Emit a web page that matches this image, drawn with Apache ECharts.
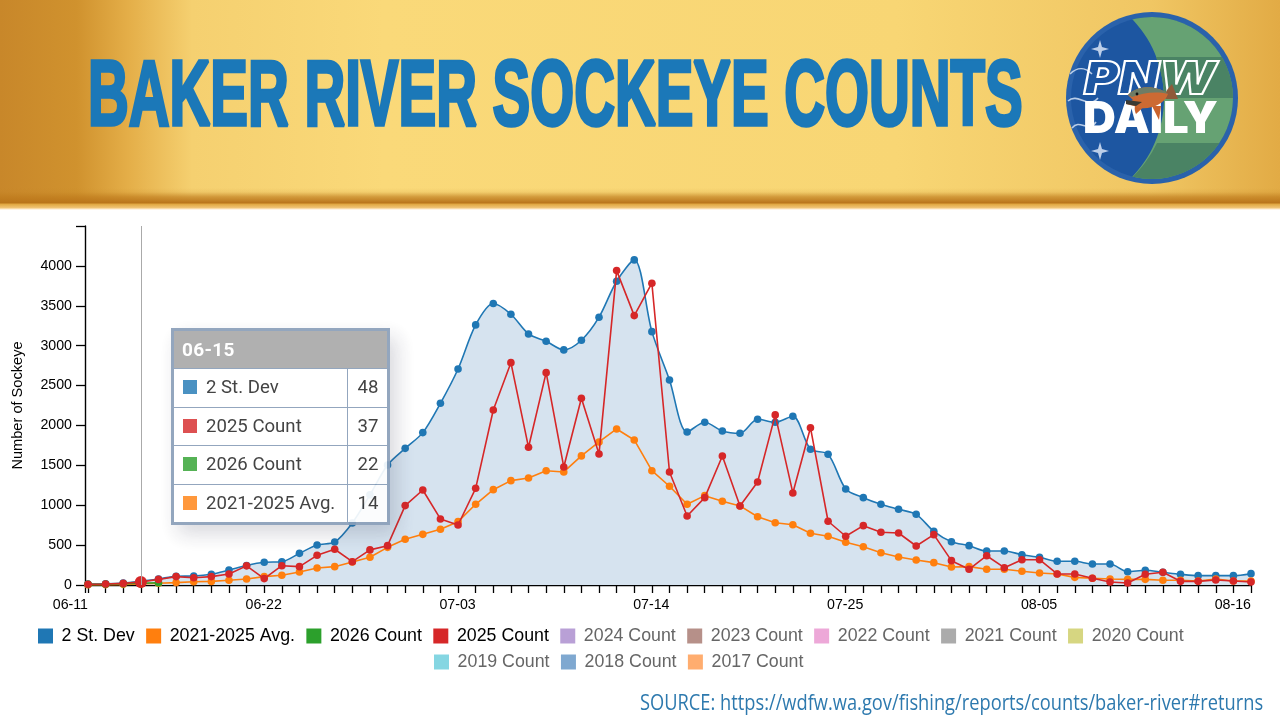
<!DOCTYPE html>
<html>
<head>
<meta charset="utf-8">
<title>Baker River Sockeye Counts</title>
<script src="https://cdn.jsdelivr.net/npm/echarts@6/dist/echarts.min.js"></script>
<style>
  html, body { margin: 0; padding: 0; background: #fff; }
  #wrap { position: relative; width: 1280px; height: 720px; overflow: hidden; }
  #chart { position: absolute; left: 0; top: 0; width: 1280px; height: 720px; }
  #logo { position: absolute; left: 1060px; top: 6px; width: 184px; height: 184px; }
  .tip { width: 213px; border: 3px solid #8a9fb9; background: #fff; font-family: Roboto, sans-serif; color: #333; }
  .tip .head { height: 37px; line-height: 37px; background: #aaa; color: #fff; font-weight: 700; font-size: 19px; padding-left: 8px; letter-spacing: .3px; }
  .tip .row { position: relative; height: 37.6px; line-height: 37.6px; border-top: 1.5px solid #8a9fb9; font-size: 18.6px; }
  .tip .sw { position: absolute; left: 9px; top: 11px; width: 14px; height: 14px; }
  .tip .nm { position: absolute; left: 32px; }
  .tip .vl { position: absolute; left: 173px; width: 40px; border-left: 1.5px solid #8a9fb9; text-align: center; height: 100%; }
</style>
</head>
<body>
<div id="wrap">
  <div id="chart"></div>
  <svg id="logo" viewBox="0 0 184 184" xmlns="http://www.w3.org/2000/svg">
    <defs>
      <clipPath id="disc"><circle cx="92" cy="92" r="81"/></clipPath>
    </defs>
    <circle cx="92" cy="92" r="86" fill="#2a62ab"/>
    <circle cx="92" cy="92" r="81" fill="#1d56a1"/>
    <g clip-path="url(#disc)">
      <path d="M56 0 H184 V184 H56 C85 165 104 130 104 92 C104 54 85 19 56 0 Z" fill="#66a273"/>
      <path d="M96 51 H184 V92 H104 C104 78 101 64 96 51 Z" fill="#4a8364"/>
      <path d="M97 137 H184 V184 H56 C75 172 88 155 97 137 Z" fill="#4a8364"/>
    </g>
    <path d="M40 34 L42 41 L49 43 L42 45 L40 52 L38 45 L31 43 L38 41 Z" fill="#bccfe9"/>
    <path d="M40 136 L42 143 L49 145 L42 147 L40 154 L38 147 L31 145 L38 143 Z" fill="#bccfe9"/>
    <g fill="none" stroke="#b9cde8" stroke-width="1.6">
      <path d="M10 68 C18 60 26 62 32 68"/>
      <path d="M8 95 C18 86 28 104 38 92"/>
      <path d="M12 122 C20 112 28 128 36 116"/>
    </g>
    <text x="24" y="88" font-family="Inter, 'Liberation Sans'" font-weight="900" font-style="italic" font-size="46" textLength="132" lengthAdjust="spacingAndGlyphs" fill="none" stroke="#fff" stroke-width="2">PNW</text>
    <text x="23" y="127" font-family="Inter, 'Liberation Sans'" font-weight="900" font-size="44" textLength="135" lengthAdjust="spacingAndGlyphs" fill="#fff">DAILY</text>
    <!-- leaping salmon across the wordmark -->
    <path d="M78 96 C74 99 74 104 76 108 L88 97 Z" fill="#c9622c"/>
    <path d="M92 100 L99 114 L101 100 Z" fill="#c9622c"/>
    <path d="M112 78 L118 93 L106 93 C104 92 104 86 112 78 Z" fill="#8f5a3a"/>
    <path d="M68 89 C78 79 96 79 108 88 C104 100 84 106 74 100 L66 98 L73 94 Z" fill="#cc6a33"/>
    <path d="M68 89 C78 79 96 79 108 88 C96 85 82 87 72 91 Z" fill="#6e7c65"/>
    <path d="M66 94 L82 96 L76 100 L66 98 Z" fill="#3b3a33"/>
    <circle cx="77" cy="88" r="1.4" fill="#111"/>
  </svg>
</div>
<script>
// Daily fish-ladder counts, one entry per day along the season.
const dayIndex = [];
for (let d = 0; d <= 66; d++) dayIndex.push(d);

const tickIndex = [0, 11, 22, 33, 44, 55, 66];
const tickLabels = ['06-11', '06-22', '07-03', '07-14', '07-25', '08-05', '08-16'];

const stDev = [12, 15, 25, 48, 75, 110, 113, 135, 188, 245, 285, 292, 397, 501, 539, 778, 1130, 1505, 1713, 1910,
  2278, 2708, 3260, 3528, 3394, 3147, 3055, 2947, 3068, 3357, 3808, 4075, 3176, 2570, 1918, 2040, 1931, 1902, 2077, 2040,
  2115, 1701, 1639, 1204, 1095, 1012, 949, 886, 673, 543, 493, 426, 426, 380, 347, 297, 297, 263, 263, 167,
  184, 159, 134, 117, 117, 117, 142];
const count2025 = [10, 12, 20, 37, 70, 105, 90, 105, 138, 240, 80, 242, 230, 372, 448, 292, 440, 493, 995, 1191,
  828, 752, 1212, 2194, 2787, 1726, 2662, 1480, 2341, 1643, 3941, 3377, 3783, 1417, 865, 1095, 1617, 991, 1291, 2132,
  1154, 1972, 799, 611, 744, 661, 652, 489, 631, 305, 197, 367, 217, 317, 317, 138, 138, 84, 38, 25,
  134, 159, 46, 46, 63, 50, 38];
const avg5yr = [3, 5, 8, 14, 22, 30, 40, 45, 60, 75, 105, 122, 163, 213, 230, 288, 347, 472, 573, 635,
  698, 794, 1012, 1195, 1308, 1342, 1433, 1417, 1618, 1793, 1956, 1818, 1433, 1238, 1012, 1120, 1049, 991, 856, 781,
  756, 648, 611, 535, 480, 405, 351, 313, 280, 226, 230, 197, 197, 172, 150, 138, 96, 84, 75, 71,
  71, 59, 59, 50, 75, 50, 50];
const count2026 = [8, 10, 15, 22, 28];

const legendRowOne = ['2 St. Dev', '2021-2025 Avg.', '2026 Count', '2025 Count', '2024 Count', '2023 Count', '2022 Count', '2021 Count', '2020 Count'];
const legendRowTwo = ['2019 Count', '2018 Count', '2017 Count'];
const activeNames = ['2 St. Dev', '2021-2025 Avg.', '2026 Count', '2025 Count'];
const mutedYears = {
  '2024 Count': '#b9a0d6', '2023 Count': '#b69089', '2022 Count': '#eda8d8', '2021 Count': '#ababab',
  '2020 Count': '#d6d681', '2019 Count': '#85d6e2', '2018 Count': '#7fa8d0', '2017 Count': '#ffad6f'
};

const hoverIndex = 3;
const hoverDate = '06-15';
const hoverSize = 11;
const dotSize = 7.6;

const pairs = (values) => values.map((v, i) => [dayIndex[i], v]);
const dotBySize = (value, params) => (params.dataIndex === hoverIndex ? hoverSize : dotSize);

function lineSeries(name, values, color, z, extra) {
  return Object.assign({
    name, type: 'line', data: pairs(values), z, clip: false,
    symbol: 'circle', symbolSize: dotSize, showSymbol: true,
    lineStyle: { color, width: 1.6 }, itemStyle: { color },
    emphasis: { disabled: true }
  }, extra || {});
}

const series = [
  lineSeries('2 St. Dev', stDev, '#1f77b4', 2, {
    smooth: 0.3, areaStyle: { color: '#d6e3ef', opacity: 1 }
  }),
  lineSeries('2021-2025 Avg.', avg5yr, '#ff7f0e', 3),
  lineSeries('2026 Count', count2026, '#2ca02c', 4),
  // The hovered day is marked on the top series only.
  lineSeries('2025 Count', count2025, '#d62728', 5, { symbolSize: dotBySize })
];
Object.keys(mutedYears).forEach((name) => {
  series.push({ name, type: 'line', data: [], itemStyle: { color: mutedYears[name] }, lineStyle: { color: mutedYears[name] } });
});

const legendFont = { fontFamily: '"Liberation Sans", Arial, sans-serif', fontSize: 17.8 };
const legendItems = (names) => names.map((name) => ({
  name, icon: 'rect',
  textStyle: { color: activeNames.includes(name) ? '#000' : '#666' }
}));
const legendBase = {
  orient: 'horizontal', itemWidth: 15, itemHeight: 15, itemGap: 11.4, selectedMode: false,
  padding: 0, textStyle: Object.assign({ padding: [0, 0, 0, 3.6] }, legendFont)
};

const xTicks = [-0.17].concat(dayIndex);

function tooltipHtml(params) {
  const rows = params.filter((p) => p.value && p.value[1] != null)
    .sort((a, b) => b.value[1] - a.value[1])
    .map((p) => '<div class="row"><span class="sw" style="background:' + p.color + ';opacity:.88"></span>' +
      '<span class="nm">' + p.seriesName + '</span><span class="vl">' + p.value[1] + '</span></div>');
  return '<div class="tip"><div class="head">' + hoverDate + '</div>' + rows.join('') + '</div>';
}

const chart = echarts.init(document.getElementById('chart'));
chart.setOption({
  animation: false,
  backgroundColor: '#fff',
  grid: { left: 85, right: 29, top: 226, bottom: 135 },
  tooltip: {
    trigger: 'axis',
    alwaysShowContent: true,
    transitionDuration: 0,
    padding: 0,
    borderWidth: 0,
    backgroundColor: 'transparent',
    position: [171, 328],
    formatter: tooltipHtml,
    extraCssText: 'opacity:.92;border-radius:0;box-shadow:7px 9px 18px rgba(70,70,90,.22);',
    axisPointer: {
      type: 'line', snap: true, triggerEmphasis: false,
      lineStyle: { color: '#aaa', width: 1, type: 'solid' }, label: { show: false }
    }
  },
  legend: [
    Object.assign({}, legendBase, { left: 38, top: 627, data: legendItems(legendRowOne) }),
    Object.assign({}, legendBase, { left: 434, top: 653, data: legendItems(legendRowTwo) })
  ],
  xAxis: {
    type: 'value', min: -0.17, max: 66, splitLine: { show: false },
    axisLine: { onZero: false, lineStyle: { color: '#000', width: 1.4 } },
    axisTick: { length: 8, lineStyle: { color: '#000', width: 1.3 }, customValues: xTicks },
    axisLabel: {
      customValues: tickIndex, align: 'right', margin: 13, color: '#000',
      fontFamily: '"Liberation Sans", Arial, sans-serif', fontSize: 14.2,
      formatter: (v) => tickLabels[tickIndex.indexOf(v)]
    }
  },
  yAxis: {
    type: 'value', min: 0, max: 4500, interval: 500, splitLine: { show: false },
    name: 'Number of Sockeye', nameLocation: 'middle', nameGap: 60, nameRotate: 90,
    nameTextStyle: { color: '#000', fontFamily: '"Liberation Sans", Arial, sans-serif', fontSize: 14.6 },
    axisLine: { show: true, onZero: false, lineStyle: { color: '#000', width: 1.4 } },
    axisTick: { show: true, length: 9, lineStyle: { color: '#000', width: 1.3 } },
    axisLabel: {
      margin: 13, color: '#000',
      fontFamily: '"Liberation Sans", Arial, sans-serif', fontSize: 14.2,
      formatter: (v) => (v > 4000 ? '' : String(v))
    }
  },
  graphic: [
    { type: 'rect', z: -5, silent: true, shape: { x: 0, y: 0, width: 1280, height: 208 },
      style: { fill: new echarts.graphic.LinearGradient(0, 0, 1, 0, [
        { offset: 0, color: '#c8872a' }, { offset: 0.06, color: '#d0922e' }, { offset: 0.1, color: '#e4ae48' },
        { offset: 0.15, color: '#f5d070' }, { offset: 0.3, color: '#fad979' }, { offset: 0.7, color: '#f8d674' },
        { offset: 0.9, color: '#f0c663' }, { offset: 1, color: '#e2ab45' }]) } },
    { type: 'rect', z: -4, silent: true, shape: { x: 0, y: 188, width: 1280, height: 22 },
      style: { fill: new echarts.graphic.LinearGradient(0, 0, 0, 1, [
        { offset: 0, color: 'rgba(190,125,30,0)' }, { offset: 0.18, color: 'rgba(190,125,30,.12)' },
        { offset: 0.4, color: 'rgba(190,122,28,.65)' }, { offset: 0.68, color: 'rgba(185,116,26,1)' },
        { offset: 0.73, color: 'rgba(224,166,63,1)' }, { offset: 0.9, color: 'rgba(240,196,118,1)' },
        { offset: 0.95, color: 'rgba(253,229,191,1)' }, { offset: 1, color: 'rgba(255,255,255,1)' }]) } },
    { type: 'text', z: 5, silent: true, x: 88, y: 99, scaleX: 0.607, scaleY: 1,
      style: { text: 'BAKER RIVER SOCKEYE COUNTS', fill: '#1b78b8', stroke: '#1b78b8', lineWidth: 3.6, lineJoin: 'miter',
        font: '700 93px "Liberation Sans", Arial, sans-serif', textAlign: 'left', textVerticalAlign: 'middle' } },
    { type: 'text', z: 5, silent: true, x: 640, y: 704, scaleX: 0.87,
      style: { text: 'SOURCE: https://wdfw.wa.gov/fishing/reports/counts/baker-river#returns', fill: '#2d79ae',
        font: '400 21px "Open Sans", sans-serif', textAlign: 'left', textVerticalAlign: 'middle' } }
  ],
  series
});
chart.dispatchAction({ type: 'showTip', seriesIndex: 0, dataIndex: hoverIndex });
</script>
</body>
</html>
